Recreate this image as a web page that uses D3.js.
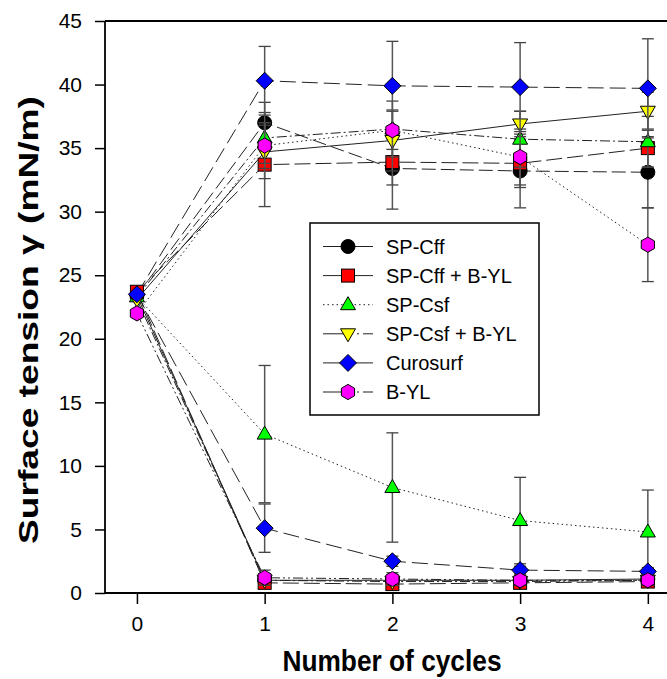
<!DOCTYPE html>
<html>
<head>
<meta charset="utf-8">
<script src="https://cdn.jsdelivr.net/npm/d3@7"></script>
<style>
  body { margin: 0; background: #fff; }
  svg text { font-family: "Liberation Sans", Arial, sans-serif; }
</style>
</head>
<body>
<div id="chart"></div>
<script>
// cycles on the x axis
var cycles = [0, 1, 2, 3, 4];
var seriesNames = ["SP-Cff", "SP-Cff + B-YL", "SP-Csf", "SP-Csf + B-YL", "Curosurf", "B-YL"];

// starting value at cycle 0 (shared by both branches)
var startVals = [23.4, 23.7, 23.3, 23.1, 23.5, 22.0];

// upper branch (max surface tension), cycles 1-4
var spCffMax = [37.0, 33.4, 33.2, 33.1];
var spCffYlMax = [33.7, 33.9, 33.8, 35.0];
var spCsfMax = [35.8, 36.5, 35.7, 35.5];
var spCsfYlMax = [34.7, 35.6, 36.9, 37.9];
var curosurfMax = [40.3, 39.9, 39.8, 39.7];
var bylMax = [35.2, 36.4, 34.3, 27.4];

var spCffMaxErr = [1.6, 3.2, 2.9, 2.8];
var spCffYlMaxErr = [3.3, 1.8, 1.9, 1.5];
var spCsfMaxErr = [2.0, 2.2, 2.2, 2.0];
var spCsfYlMaxErr = [2.1, 2.4, 1.0, 1.5];
var curosurfMaxErr = [2.7, 3.5, 3.5, 3.9];
var bylMaxErr = [1.8, 1.5, 2.2, 2.9];

// lower branch (min surface tension), cycles 1-4
var spCffMin = [1.0, 1.0, 1.0, 1.1];
var spCffYlMin = [0.8, 0.7, 0.8, 0.9];
var spCsfMin = [12.5, 8.3, 5.7, 4.8];
var spCsfYlMin = [1.0, 0.9, 0.9, 1.0];
var curosurfMin = [5.1, 2.5, 1.8, 1.7];
var bylMin = [1.2, 1.1, 1.0, 1.0];

var spCffMinErr = [0.5, 0.4, 0.4, 0.4];
var spCffYlMinErr = [0.3, 0.3, 0.3, 0.3];
var spCsfMinErr = [5.4, 4.3, 3.4, 3.3];
var spCsfYlMinErr = [0.4, 0.3, 0.3, 0.3];
var curosurfMinErr = [1.9, 0.4, 0.3, 0.3];
var bylMinErr = [0.6, 0.5, 0.4, 0.4];

var yTicks = [0, 5, 10, 15, 20, 25, 30, 35, 40, 45];

// build the series table
var maxVals = [spCffMax, spCffYlMax, spCsfMax, spCsfYlMax, curosurfMax, bylMax];
var maxErrs = [spCffMaxErr, spCffYlMaxErr, spCsfMaxErr, spCsfYlMaxErr, curosurfMaxErr, bylMaxErr];
var minVals = [spCffMin, spCffYlMin, spCsfMin, spCsfYlMin, curosurfMin, bylMin];
var minErrs = [spCffMinErr, spCffYlMinErr, spCsfMinErr, spCsfYlMinErr, curosurfMinErr, bylMinErr];

// styles (kept apart from the data)
var fills = ["#000000", "#ff0000", "#00ff00", "#ffff00", "#0000ff", "#ff00ff"];
var symbols = ["circle", "square", "triUp", "triDown", "diamond", "hexagon"];
var dashUpper = ["14,5", "16,5", "10,3,2,3", null, "16,6", "1.5,3"];
var dashLower = [null, "16,5", "1.5,3", "10,3,2,3", "16,6", "10,3,2,3,2,3"];
var dashLegend = [null, "22,4,2,4", "1.5,3", "30,4,2,4", null, "30,4,2,4"];

var width = 667, height = 679;
var margin = {left: 105, right: 667, top: 21, bottom: 593};

var svg = d3.select("#chart").append("svg")
    .attr("width", width)
    .attr("height", height);

var x = d3.scaleLinear().domain([-0.25, 4.15]).range([margin.left, margin.right]);
var y = d3.scaleLinear().domain([0, 45]).range([margin.bottom, margin.top]);

// marker drawing
function drawSymbol(g, type, cx, cy, fill) {
    var s;
    if (type == "circle") {
        s = g.append("circle").attr("cx", cx).attr("cy", cy).attr("r", 7);
    } else if (type == "square") {
        s = g.append("rect").attr("x", cx - 6.5).attr("y", cy - 6.5).attr("width", 13).attr("height", 13);
    } else {
        var pts;
        if (type == "triUp") pts = [[0, -8], [7.5, 5], [-7.5, 5]];
        if (type == "triDown") pts = [[0, 8], [7.5, -5], [-7.5, -5]];
        if (type == "diamond") pts = [[0, -8.5], [8.5, 0], [0, 8.5], [-8.5, 0]];
        if (type == "hexagon") pts = d3.range(6).map(function(i) {
            var a = Math.PI / 3 * i;
            return [7.6 * Math.sin(a), -7.6 * Math.cos(a)];
        });
        s = g.append("polygon").attr("points", pts.map(function(p) { return (cx + p[0]) + "," + (cy + p[1]); }).join(" "));
    }
    s.attr("fill", fill).attr("stroke", "#000").attr("stroke-width", 1);
}

var line = d3.line()
    .x(function(d) { return x(d[0]); })
    .y(function(d) { return y(d[1]); });

var plot = svg.append("g");

// lines first
seriesNames.forEach(function(name, i) {
    var upper = [[cycles[0], startVals[i]]].concat(maxVals[i].map(function(v, j) { return [cycles[j + 1], v]; }));
    var lower = [[cycles[0], startVals[i]]].concat(minVals[i].map(function(v, j) { return [cycles[j + 1], v]; }));
    plot.append("path").datum(upper)
        .attr("d", line).attr("fill", "none")
        .attr("stroke", "#222").attr("stroke-width", 1)
        .attr("stroke-dasharray", dashUpper[i]);
    plot.append("path").datum(lower)
        .attr("d", line).attr("fill", "none")
        .attr("stroke", "#222").attr("stroke-width", 1)
        .attr("stroke-dasharray", dashLower[i]);
});

// error bars and markers, one series at a time
seriesNames.forEach(function(name, i) {
    var g = plot.append("g");
    var pts = [];
    maxVals[i].forEach(function(v, j) { pts.push({x: cycles[j + 1], v: v, e: maxErrs[i][j]}); });
    minVals[i].forEach(function(v, j) { pts.push({x: cycles[j + 1], v: v, e: minErrs[i][j]}); });

    pts.forEach(function(p) {
        var px = x(p.x);
        g.append("line")
            .attr("x1", px).attr("x2", px)
            .attr("y1", y(p.v - p.e)).attr("y2", y(p.v + p.e))
            .attr("stroke", "#555").attr("stroke-width", 1.5);
        [p.v - p.e, p.v + p.e].forEach(function(c) {
            g.append("line")
                .attr("x1", px - 6).attr("x2", px + 6)
                .attr("y1", y(c)).attr("y2", y(c))
                .attr("stroke", "#444").attr("stroke-width", 1.3);
        });
    });
    drawSymbol(g, symbols[i], x(cycles[0]), y(startVals[i]), fills[i]);
    pts.forEach(function(p) {
        drawSymbol(g, symbols[i], x(p.x), y(p.v), fills[i]);
    });
});

// axes
var xAxis = d3.axisBottom(x).tickValues(cycles).tickSize(11).tickPadding(12).tickFormat(d3.format("d"));
var yAxis = d3.axisLeft(y).tickValues(yTicks).tickSize(10).tickPadding(13);

var gx = svg.append("g").attr("transform", "translate(0," + margin.bottom + ")").call(xAxis);
var gy = svg.append("g").attr("transform", "translate(" + margin.left + ",0)").call(yAxis);
[gx, gy].forEach(function(g) {
    g.attr("font-size", 21).attr("font-family", "'Liberation Sans', Arial, sans-serif");
    g.select(".domain").remove();
    g.selectAll(".tick line").attr("stroke", "#000").attr("stroke-width", 1.5);
    g.selectAll(".tick text").attr("fill", "#000");
});

// frame lines (left, top, bottom)
svg.append("line").attr("x1", margin.left).attr("x2", margin.left).attr("y1", margin.top).attr("y2", margin.bottom)
    .attr("stroke", "#000").attr("stroke-width", 1.8);
svg.append("line").attr("x1", margin.left).attr("x2", margin.right).attr("y1", margin.top).attr("y2", margin.top)
    .attr("stroke", "#000").attr("stroke-width", 1.8);
svg.append("line").attr("x1", margin.left).attr("x2", margin.right).attr("y1", margin.bottom).attr("y2", margin.bottom)
    .attr("stroke", "#000").attr("stroke-width", 1.8);

// axis titles (the source draws them tall and narrow)
svg.append("text")
    .attr("x", 392).attr("y", 671)
    .attr("text-anchor", "middle")
    .attr("font-size", "29px").attr("font-weight", "bold")
    .attr("textLength", 219).attr("lengthAdjust", "spacingAndGlyphs")
    .text("Number of cycles");

svg.append("text")
    .attr("transform", "translate(38,320) rotate(-90)")
    .attr("text-anchor", "middle")
    .attr("font-size", "28px").attr("font-weight", "bold")
    .attr("textLength", 448).attr("lengthAdjust", "spacingAndGlyphs")
    .text("Surface tension γ (mN/m)");

// legend
var legend = svg.append("g");
legend.append("rect")
    .attr("x", 310).attr("y", 223).attr("width", 229).attr("height", 192)
    .attr("fill", "#fff").attr("stroke", "#000").attr("stroke-width", 1.5);

seriesNames.forEach(function(name, i) {
    var ly = 246.5 + i * 29.1;
    legend.append("line")
        .attr("x1", 323).attr("x2", 373).attr("y1", ly).attr("y2", ly)
        .attr("stroke", "#222").attr("stroke-width", 1)
        .attr("stroke-dasharray", dashLegend[i]);
    drawSymbol(legend, symbols[i], 348, ly, fills[i]);
    legend.append("text")
        .attr("x", 386).attr("y", ly + 7)
        .attr("font-size", "20px")
        .text(name);
});
</script>
</body>
</html>
